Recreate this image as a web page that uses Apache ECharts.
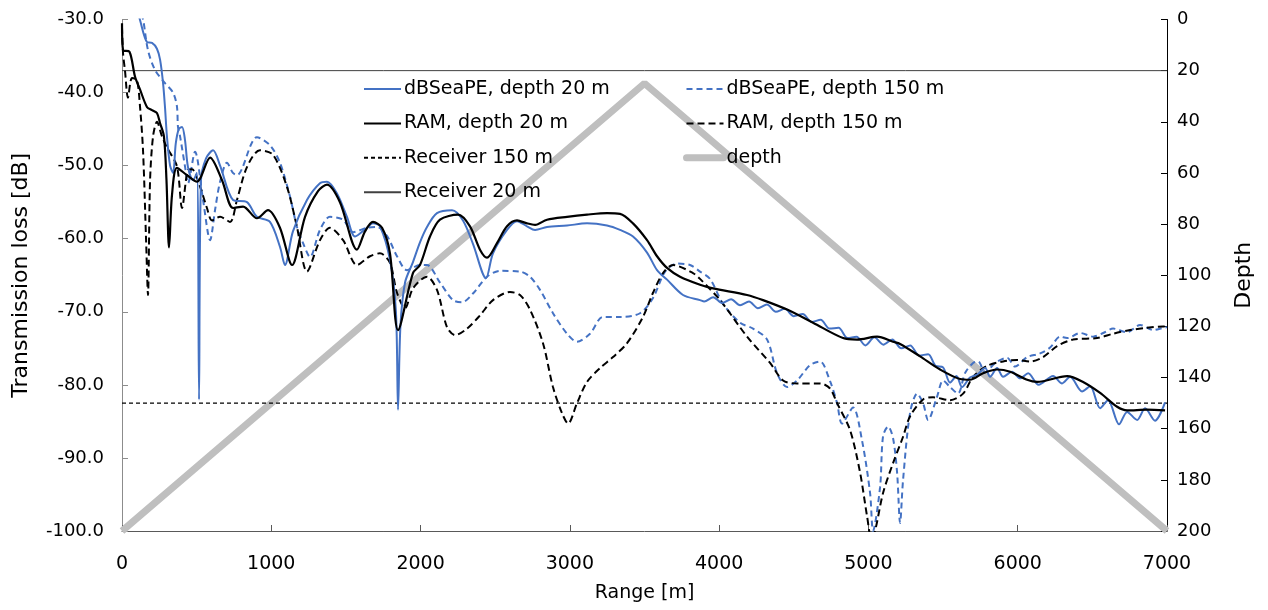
<!DOCTYPE html>
<html>
<head>
<meta charset="utf-8">
<title>Transmission loss</title>
<script src="https://cdn.jsdelivr.net/npm/echarts@6/dist/echarts.min.js"></script>
<style>
  html, body { margin: 0; padding: 0; background: #fff; }
  #chart { width: 1268px; height: 610px; }
</style>
</head>
<body>
<div id="chart"></div>
<script>
// [range m, transmission loss dB]
const dbsea20 = [
  [0, -22], [80, -27], [121, -30.1], [168, -33.1], [201, -33.2], [234, -34], [255, -35.5], [275, -38.7],
  [288, -42], [301, -46], [322, -50], [342, -51], [360, -47], [380, -45], [402, -44.7], [422, -46.5],
  [442, -50.2], [476, -52], [502, -51], [516, -82], [529, -52], [563, -49], [610, -47.9], [657, -50],
  [744, -54.7], [837, -55], [904, -57], [991, -57.7], [1058, -61.1], [1092, -63.6], [1145, -59],
  [1239, -54.7], [1326, -52.4], [1373, -52.2], [1440, -53.8], [1507, -57], [1561, -59.7], [1641, -58.5],
  [1681, -57.9], [1728, -58.3], [1795, -62.9], [1835, -70], [1849, -83.4], [1865, -72], [1896, -66],
  [1949, -63.2], [1996, -60.5], [2043, -58.4], [2110, -56.5], [2211, -56.1], [2284, -57.5], [2351, -60.7],
  [2438, -65.4], [2485, -62], [2579, -58.8], [2646, -57.6], [2713, -58.3], [2767, -58.8], [2847, -58.4],
  [2981, -58.2], [3115, -57.9], [3249, -58.2], [3336, -58.8], [3423, -59.7], [3517, -61.9], [3584, -64.3],
  [3651, -65.6], [3758, -67.7], [3872, -68.4], [3900, -68.6], [3960, -68.0], [4020, -68.8], [4080, -68.3],
  [4140, -69.1], [4200, -68.6], [4260, -69.5], [4320, -69.0], [4380, -70.0], [4440, -69.6], [4500, -70.6],
  [4560, -70.3], [4620, -71.4], [4680, -71.1], [4740, -72.3], [4800, -72.2], [4860, -73.6], [4920, -73.4],
  [4980, -74.6], [5040, -73.5], [5100, -74.5], [5160, -73.8], [5220, -75.0], [5280, -74.6], [5340, -76.0],
  [5400, -75.8], [5450, -77.4], [5500, -77.6], [5547, -79.7], [5590, -78.8], [5627, -80.3], [5680, -79.0],
  [5728, -78.6], [5782, -77.7], [5815, -78.9], [5862, -77.7], [5902, -78.9], [5962, -78.2], [6016, -79.1],
  [6070, -78.4], [6140, -80.0], [6237, -78.8], [6297, -79.8], [6351, -78.9], [6431, -80.9], [6485, -80.2],
  [6552, -83.2], [6605, -82.1], [6679, -85.4], [6733, -83.7], [6800, -84.8], [6853, -83.2], [6920, -84.9],
  [6987, -82.4]
]

const dbsea150 = [
  [0, -20], [100, -27], [141, -30], [174, -34.2], [221, -36.9], [288, -38.7], [342, -40], [368, -41.9],
  [375, -44.7], [389, -46], [422, -50.1], [442, -52.4], [489, -48.1], [543, -54.7], [590, -60.2],
  [623, -56.1], [657, -52.2], [703, -49.6], [743, -51], [770, -51.3], [904, -46.1], [991, -47.2],
  [1058, -49.6], [1125, -54.2], [1172, -58.4], [1213, -60.6], [1259, -62.5], [1326, -58.8], [1393, -57],
  [1481, -57.4], [1548, -59.1], [1641, -58.5], [1708, -58.4], [1775, -59.6], [1842, -62.4], [1909, -64.3],
  [1996, -63.6], [2043, -63.6], [2130, -66], [2217, -68.4], [2278, -68.7], [2351, -67.5], [2445, -65.2],
  [2532, -64.4], [2666, -64.5], [2733, -65.2], [2800, -67], [2887, -70.2], [2981, -73], [3048, -74.1],
  [3135, -73], [3222, -70.7], [3336, -70.7], [3470, -70.2], [3557, -68.1], [3638, -64.5], [3718, -63.4],
  [3805, -63.6], [3872, -64.5], [3939, -65.5], [4026, -68.9], [4140, -71.5], [4227, -72.3], [4321, -73.8],
  [4388, -78.4], [4455, -80.3], [4522, -79.4], [4609, -77.3], [4676, -76.8], [4743, -79.5], [4790, -82.5],
  [4823, -85.3], [4897, -83.1], [4957, -87.6], [5011, -94.8], [5031, -100], [5078, -94], [5098, -87],
  [5132, -85.7], [5165, -87.3], [5192, -92], [5212, -98.9], [5232, -93], [5279, -83.8], [5326, -81.2],
  [5366, -82.5], [5400, -84.8], [5460, -81.6], [5500, -79.4], [5547, -80.3], [5600, -81.2], [5647, -78.4],
  [5701, -77], [5735, -76.8], [5782, -78.3], [5849, -77], [5929, -76.3], [5982, -77.5], [6063, -76.2],
  [6150, -75.7], [6217, -74.9], [6284, -73.4], [6331, -73.6], [6418, -72.9], [6505, -73.4], [6572, -72.9],
  [6639, -72.3], [6733, -72.8], [6820, -71.8], [6907, -72.5], [6974, -72.2], [7000, -72.1]
]

const ram20 = [
  [0, -30.5], [7, -34.2], [50, -34.4], [87, -37.8], [121, -39.6], [168, -42], [201, -42.4], [234, -42.8],
  [255, -44.2], [281, -46], [298, -52], [315, -61.2], [335, -54], [368, -50.3], [435, -51.3], [502, -52.2],
  [590, -48.9], [670, -52], [744, -55.8], [811, -55.6], [904, -57.2], [978, -56.1], [1058, -58.5],
  [1139, -63.6], [1226, -57], [1313, -53.5], [1373, -52.6], [1460, -55], [1574, -61.5], [1628, -59],
  [1681, -57.7], [1742, -58.5], [1795, -62], [1849, -72.5], [1949, -64.7], [1996, -63.6], [2063, -59.7],
  [2130, -57.4], [2251, -56.7], [2331, -58.3], [2398, -61.5], [2445, -62.6], [2512, -60.6], [2579, -58.3],
  [2646, -57.5], [2713, -57.9], [2767, -58.1], [2847, -57.4], [2981, -57], [3115, -56.7], [3249, -56.5],
  [3336, -56.6], [3423, -57.9], [3517, -60.2], [3584, -62.4], [3651, -64], [3738, -65.2], [3872, -66.3],
  [3959, -66.8], [4187, -67.7], [4294, -68.4], [4455, -69.7], [4629, -71.5], [4830, -73.6], [4924, -73.8],
  [5058, -73.4], [5165, -74.1], [5212, -74.4], [5346, -76.1], [5480, -77.9], [5614, -79.2], [5681, -79.3],
  [5768, -78.4], [5862, -77.9], [5949, -78.2], [6063, -79.3], [6130, -79.6], [6331, -78.8], [6438, -79.6],
  [6552, -81.1], [6666, -83], [6733, -83.5], [6866, -83.4], [6987, -83.5]
]

const ram150 = [
  [0, -31], [7, -34.6], [20, -37], [40, -40.7], [67, -38], [100, -38.3], [121, -42], [141, -48],
  [161, -60], [174, -67.7], [188, -52], [208, -46], [234, -44], [268, -46], [301, -47.5], [368, -50.1],
  [402, -55.8], [442, -50.6], [469, -50.5], [523, -52.9], [569, -55.8], [603, -57.5], [657, -57],
  [724, -57.7], [770, -54.7], [837, -50.2], [924, -47.9], [1011, -48.5], [1105, -52.9], [1172, -58.4],
  [1239, -64.5], [1326, -60.2], [1393, -58.5], [1481, -60.2], [1574, -63.6], [1661, -62.4], [1728, -62],
  [1795, -63.3], [1842, -67.4], [1896, -69.5], [1949, -66.8], [2043, -65.2], [2110, -67], [2177, -72.1],
  [2231, -73.2], [2311, -72.3], [2398, -70.5], [2485, -68.4], [2599, -67.3], [2666, -67.7], [2733, -69.7],
  [2820, -74.3], [2887, -80.3], [2948, -83.9], [2988, -85.3], [3048, -82.5], [3115, -79.6], [3202, -77.7],
  [3289, -76.2], [3383, -74.3], [3490, -70.7], [3557, -67.4], [3624, -64.7], [3691, -63.6], [3825, -64.7],
  [3872, -65.5], [4006, -68.4], [4187, -73.4], [4341, -77], [4428, -79.4], [4522, -79.8], [4676, -79.8],
  [4743, -80.5], [4790, -82.5], [4877, -86.2], [4944, -92], [4991, -98], [5020, -101], [5044, -100],
  [5098, -94.8], [5165, -90.7], [5232, -87.1], [5279, -84.3], [5366, -82], [5433, -81.7], [5547, -82.1],
  [5634, -81.2], [5701, -78.9], [5795, -77.4], [5902, -76.8], [5996, -76.6], [6083, -76.8], [6170, -76.2],
  [6264, -74.7], [6371, -73.8], [6532, -73.6], [6639, -73], [6753, -72.5], [6866, -72.2], [6974, -72],
  [7000, -72]
]

// [range m, depth m]
const depthProfile = [[0, 200], [3500, 25], [7000, 200]]
const receiver150 = [[0, 150], [7000, 150]]
const receiver20 = [[0, 20], [7000, 20]]

const fontFamily = 'DejaVu Sans'
const blue = '#4472c4'

const chart = echarts.init(document.getElementById('chart'))

const legendBase = {
  top: 74, orient: 'vertical', itemGap: 14.4, itemWidth: 37, itemHeight: 14,
  itemStyle: { opacity: 0 },
  textStyle: { fontFamily: fontFamily, fontSize: 19, color: '#000', lineHeight: 20, padding: [0, 0, 0, -2] }
}

const option = {
  animation: false,
  backgroundColor: '#fff',
  textStyle: { fontFamily: fontFamily, color: '#000' },
  grid: { left: 122, right: 101, top: 19.5, bottom: 79, outerBoundsMode: 'none' },
  legend: [
    Object.assign({}, legendBase, {
      left: 358,
      data: ['dBSeaPE, depth 20 m', 'RAM, depth 20 m', 'Receiver 150 m', 'Receiver 20 m']
    }),
    Object.assign({}, legendBase, {
      left: 678,
      data: [
        'dBSeaPE, depth 150 m',
        'RAM, depth 150 m',
        { name: 'depth', lineStyle: { width: 7, color: '#bfbfbf', cap: 'round' } }
      ]
    })
  ],
  xAxis: {
    type: 'value', min: 0, max: 7000, interval: 1000,
    name: 'Range [m]', nameLocation: 'middle', nameGap: 53,
    nameTextStyle: { fontSize: 19, color: '#000' },
    axisLine: { onZero: false, lineStyle: { color: '#595959', width: 1 } },
    axisTick: { inside: true, length: 6, lineStyle: { color: '#595959' } },
    axisLabel: { fontSize: 19, color: '#000', margin: 24, formatter: v => String(v) },
    splitLine: { show: false }
  },
  yAxis: [
    {
      type: 'value', min: -100, max: -30, interval: 10,
      name: 'Transmission loss [dB]', nameLocation: 'middle', nameGap: 90,
      nameTextStyle: { fontSize: 22, color: '#000' },
      axisLine: { show: true, onZero: false, lineStyle: { color: '#8c8c8c' } },
      axisTick: { show: true, inside: true, length: 6, lineStyle: { color: '#8c8c8c' } },
      axisLabel: { fontSize: 18, color: '#000', margin: 18, formatter: v => v.toFixed(1) },
      splitLine: { show: false }
    },
    {
      type: 'value', min: 0, max: 200, interval: 20, inverse: true, position: 'right',
      name: 'Depth', nameLocation: 'middle', nameGap: 66,
      nameTextStyle: { fontSize: 22, color: '#000' },
      axisLine: { show: true, onZero: false, lineStyle: { color: '#000' } },
      axisTick: { show: true, inside: true, length: 6, lineStyle: { color: '#000' } },
      axisLabel: { fontSize: 18, color: '#000', margin: 10 },
      splitLine: { show: false }
    }
  ],
  series: [
    {
      name: 'depth', type: 'line', yAxisIndex: 1, data: depthProfile, symbol: 'none', showSymbol: false, z: 1,
      lineStyle: { color: '#bfbfbf', width: 7 }, itemStyle: { color: '#bfbfbf' }
    },
    {
      name: 'Receiver 150 m', type: 'line', yAxisIndex: 1, data: receiver150, symbol: 'none', showSymbol: false, z: 2,
      lineStyle: { color: '#000', width: 1.2, type: [4, 3] }, itemStyle: { color: '#000' }
    },
    {
      name: 'Receiver 20 m', type: 'line', yAxisIndex: 1, data: receiver20, symbol: 'none', showSymbol: false, z: 2,
      lineStyle: { color: '#404040', width: 1 }, itemStyle: { color: '#404040' }
    },
    {
      name: 'dBSeaPE, depth 150 m', type: 'line', data: dbsea150, symbol: 'none', showSymbol: false, smooth: 0.3, z: 3,
      lineStyle: { color: blue, width: 2, type: [6, 4] }, itemStyle: { color: blue }
    },
    {
      name: 'RAM, depth 150 m', type: 'line', data: ram150, symbol: 'none', showSymbol: false, smooth: 0.3, z: 3,
      lineStyle: { color: '#000', width: 2, type: [7, 4] }, itemStyle: { color: '#000' }
    },
    {
      name: 'dBSeaPE, depth 20 m', type: 'line', data: dbsea20, symbol: 'none', showSymbol: false, smooth: 0.3, z: 4,
      lineStyle: { color: blue, width: 2 }, itemStyle: { color: blue }
    },
    {
      name: 'RAM, depth 20 m', type: 'line', data: ram20, symbol: 'none', showSymbol: false, smooth: 0.3, z: 4,
      lineStyle: { color: '#000', width: 2.2 }, itemStyle: { color: '#000' }
    }
  ]
}

chart.setOption(option)
</script>
</body>
</html>
